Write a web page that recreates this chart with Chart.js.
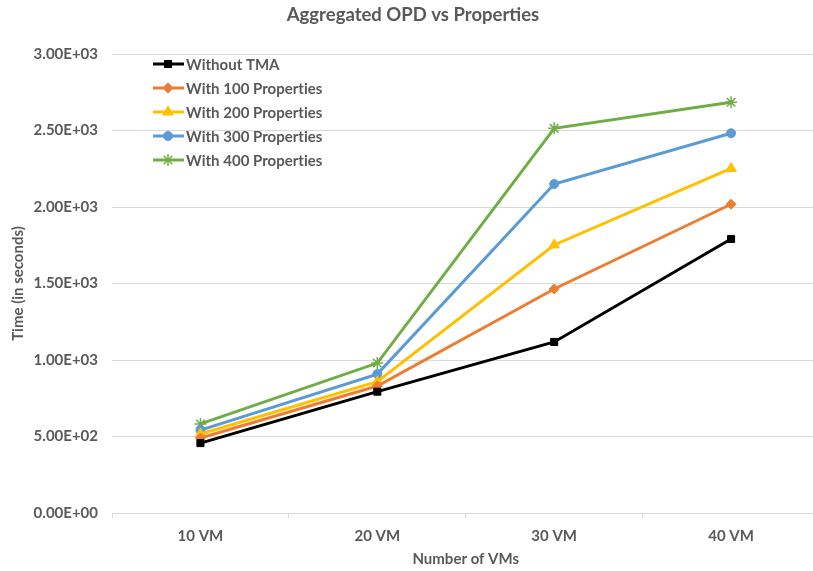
<!DOCTYPE html>
<html>
<head>
<meta charset="utf-8">
<script src="https://cdn.jsdelivr.net/npm/chart.js@4"></script>
<style>
  html, body { margin: 0; padding: 0; background: #fff; overflow: hidden; }
  #wrap { width: 827px; height: 571px; }
</style>
</head>
<body>
<div id="wrap"><canvas id="chart" width="827" height="571"></canvas></div>
<script>
const categories = ['10 VM', '20 VM', '30 VM', '40 VM']
const withoutTma = [457, 793, 1118, 1791]
const with100 = [490, 830, 1464, 2018]
const with200 = [516, 858, 1752, 2252]
const with300 = [542, 908, 2150, 2482]
const with400 = [582, 980, 2514, 2684]
const yTicks = [0, 500, 1000, 1500, 2000, 2500, 3000]

const grey = '#595959'
const font = 'Lato'

// 3.00E+03 style labels
function sci(v) {
  const [m, e] = Number(v).toExponential(2).toUpperCase().split('E')
  const sign = e[0]
  const digits = e.slice(1).padStart(2, '0')
  return m + 'E' + sign + digits
}

function series(label, data, color, style, radius, bw) {
  return {
    label: label,
    data: data,
    borderColor: color,
    backgroundColor: color,
    borderWidth: 3,
    pointStyle: style,
    pointRadius: radius,
    pointHoverRadius: radius,
    pointBorderWidth: bw,
    pointBackgroundColor: color,
    pointBorderColor: color,
    tension: 0
  }
}

// legend drawn inside the plot, top-left
const insideLegend = {
  id: 'insideLegend',
  afterDraw(chart) {
    const ctx = chart.ctx
    const x0 = chart.chartArea.left + 41
    let y = chart.chartArea.top + 10
    ctx.save()
    ctx.font = 'bold 15px ' + font
    ctx.letterSpacing = '0.01px' // avoids the "ti" ligature
    ctx.textBaseline = 'middle'
    chart.data.datasets.forEach(ds => {
      ctx.strokeStyle = ds.borderColor
      ctx.lineWidth = 3
      ctx.beginPath()
      ctx.moveTo(x0, y)
      ctx.lineTo(x0 + 31, y)
      ctx.stroke()
      ctx.fillStyle = ds.backgroundColor
      ctx.lineWidth = ds.pointBorderWidth
      Chart.helpers.drawPoint(ctx, {
        pointStyle: ds.pointStyle,
        radius: ds.pointRadius,
        borderWidth: ds.pointBorderWidth
      }, x0 + 15, y)
      ctx.fillStyle = grey
      ctx.fillText(ds.label, x0 + 33, y + 1)
      y += 24
    })
    ctx.restore()
  }
}

new Chart(document.getElementById('chart').getContext('2d'), {
  type: 'line',
  data: {
    labels: categories,
    datasets: [
      series('Without TMA', withoutTma, '#000000', 'rect', 5, 1),
      series('With 100 Properties', with100, '#ED7D31', 'rectRot', 5, 1),
      series('With 200 Properties', with200, '#FFC000', 'triangle', 6, 1),
      series('With 300 Properties', with300, '#5B9BD5', 'circle', 4.5, 1),
      series('With 400 Properties', with400, '#70AD47', 'star', 6, 1.5)
    ]
  },
  options: {
    responsive: false,
    animation: false,
    layout: { padding: { left: 0, right: 1, top: 0, bottom: 0 } },
    plugins: {
      legend: { display: false },
      tooltip: { enabled: false },
      title: {
        display: true,
        text: 'Aggregated OPD vs Properties',
        color: grey,
        font: { family: font, size: 18.5, weight: 'bold' },
        padding: { top: 4, bottom: 27.8 }
      }
    },
    scales: {
      x: {
        offset: true,
        grid: {
          display: true,
          offset: true,
          drawOnChartArea: false,
          drawTicks: true,
          tickLength: 5,
          color: '#d9d9d9'
        },
        border: { display: true, color: '#d9d9d9', width: 1 },
        ticks: {
          color: grey,
          font: { family: font, size: 15, weight: 'bold' },
          padding: 9,
          maxRotation: 0
        },
        title: {
          display: true,
          text: 'Number of VMs',
          color: grey,
          font: { family: font, size: 15, weight: 'bold' },
          padding: { top: 0, bottom: 3 }
        },
        afterFit(scale) { scale.height = 58 }
      },
      y: {
        min: 0,
        max: 3000,
        afterBuildTicks(scale) {
          scale.ticks = yTicks.map(v => ({ value: v }))
        },
        grid: {
          color: '#d9d9d9',
          drawTicks: false
        },
        border: { display: false },
        ticks: {
          color: grey,
          font: { family: font, size: 15, weight: 'bold' },
          padding: 14,
          callback: v => sci(v)
        },
        title: {
          display: true,
          text: 'Time (in seconds)',
          color: grey,
          font: { family: font, size: 15, weight: 'bold' },
          padding: { top: 9, bottom: 0 }
        },
        afterFit(scale) { scale.width = 112 }
      }
    }
  },
  plugins: [insideLegend]
})
</script>
</body>
</html>
